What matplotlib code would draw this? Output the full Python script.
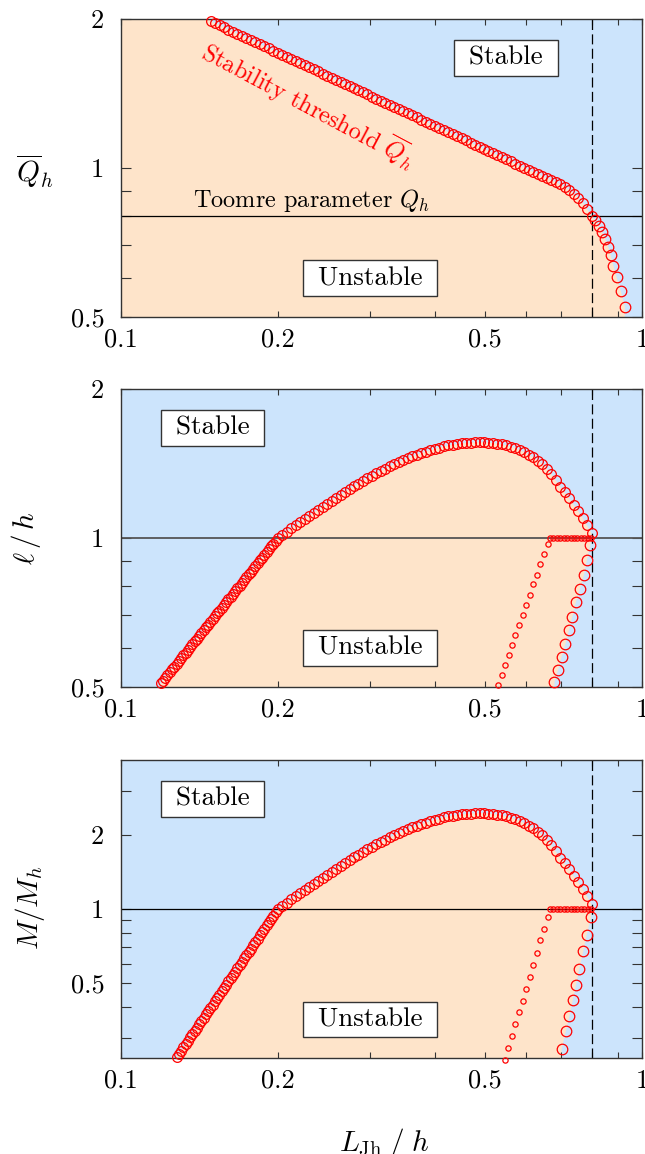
import matplotlib
matplotlib.use('Agg')
import matplotlib.pyplot as plt
from matplotlib.ticker import NullFormatter

plt.rcParams['font.family'] = 'cmr10'
plt.rcParams['mathtext.fontset'] = 'cm'
plt.rcParams['axes.formatter.use_mathtext'] = True

# ---------------- data ----------------
L_crit = 0.8      # dashed line
Q_toomre = 0.8    # Toomre parameter line (top panel)

# shared L grid of the upper branch (0.2 ... 0.8)
L_up = [0.2000, 0.2040, 0.2081, 0.2122, 0.2165, 0.2208, 0.2252, 0.2297, 0.2343, 0.2390,
        0.2438, 0.2487, 0.2536, 0.2587, 0.2639, 0.2692, 0.2746, 0.2800, 0.2856, 0.2914,
        0.2972, 0.3031, 0.3092, 0.3154, 0.3217, 0.3281, 0.3347, 0.3414, 0.3482, 0.3552,
        0.3623, 0.3695, 0.3769, 0.3845, 0.3922, 0.4000, 0.4080, 0.4162, 0.4245, 0.4330,
        0.4416, 0.4505, 0.4595, 0.4687, 0.4780, 0.4876, 0.4973, 0.5073, 0.5174, 0.5278,
        0.5383, 0.5491, 0.5601, 0.5713, 0.5827, 0.5944, 0.6062, 0.6184, 0.6307, 0.6433,
        0.6562, 0.6693, 0.6827, 0.6964, 0.7103, 0.7245, 0.7390, 0.7538, 0.7689, 0.7842,
        0.7999]

# top panel: stability threshold Qbar_h
L_top_lo = [0.1486, 0.1515, 0.1546, 0.1577, 0.1608, 0.1641, 0.1673, 0.1707, 0.1741, 0.1776,
            0.1811, 0.1848, 0.1885, 0.1922, 0.1961]
L_top_tail = [0.812, 0.825, 0.838, 0.850, 0.861, 0.871, 0.881, 0.894, 0.910, 0.927]
L_top = L_top_lo + L_up + L_top_tail
Q_top = [1.980, 1.961, 1.942, 1.923, 1.904, 1.886, 1.868, 1.849, 1.832, 1.814,
         1.796, 1.779, 1.761, 1.744, 1.727, 1.711, 1.694, 1.678, 1.661, 1.645,
         1.629, 1.614, 1.598, 1.582, 1.567, 1.552, 1.537, 1.522, 1.507, 1.493,
         1.478, 1.464, 1.450, 1.436, 1.422, 1.408, 1.394, 1.381, 1.367, 1.354,
         1.341, 1.328, 1.315, 1.302, 1.290, 1.277, 1.265, 1.253, 1.241, 1.229,
         1.217, 1.205, 1.193, 1.182, 1.170, 1.159, 1.148, 1.137, 1.126, 1.115,
         1.104, 1.093, 1.083, 1.072, 1.062, 1.051, 1.041, 1.031, 1.021, 1.011,
         1.002, 0.992, 0.982, 0.973, 0.963, 0.954, 0.945, 0.936, 0.927, 0.916,
         0.903, 0.888, 0.871, 0.851, 0.826, 0.801,
         0.784, 0.764, 0.742, 0.719, 0.694, 0.666, 0.635, 0.601, 0.565, 0.524]

# lower straight branch below L = 0.2 (listed from 0.2 downwards)
L_lo = [0.1980, 0.1961, 0.1941, 0.1922, 0.1903, 0.1884, 0.1866, 0.1847, 0.1829, 0.1811,
        0.1793, 0.1775, 0.1757, 0.1740, 0.1723, 0.1706, 0.1689, 0.1672, 0.1655, 0.1639,
        0.1623, 0.1607, 0.1591, 0.1575, 0.1560, 0.1544, 0.1529, 0.1514, 0.1499, 0.1484,
        0.1469, 0.1455, 0.1440, 0.1426, 0.1412, 0.1398, 0.1384, 0.1370, 0.1357, 0.1343,
        0.1330, 0.1317, 0.1304, 0.1291, 0.1278, 0.1265, 0.1253, 0.1240, 0.1228, 0.1216,
        0.1204, 0.1192]

# middle panel: l / h
ell_lo = [0.9871, 0.9743, 0.9617, 0.9493, 0.9370, 0.9249, 0.9130, 0.9012, 0.8895, 0.8780,
          0.8667, 0.8555, 0.8444, 0.8335, 0.8227, 0.8121, 0.8016, 0.7913, 0.7810, 0.7709,
          0.7610, 0.7512, 0.7415, 0.7319, 0.7224, 0.7131, 0.7039, 0.6948, 0.6858, 0.6769,
          0.6682, 0.6595, 0.6510, 0.6426, 0.6343, 0.6261, 0.6180, 0.6101, 0.6022, 0.5944,
          0.5867, 0.5792, 0.5717, 0.5643, 0.5570, 0.5498, 0.5427, 0.5357, 0.5288, 0.5220,
          0.5152, 0.5086]
ell_up = [1.000, 1.015, 1.030, 1.046, 1.061, 1.077, 1.093, 1.109, 1.125, 1.141,
          1.157, 1.174, 1.190, 1.207, 1.223, 1.239, 1.256, 1.272, 1.288, 1.304,
          1.320, 1.336, 1.351, 1.366, 1.381, 1.395, 1.410, 1.423, 1.437, 1.450,
          1.462, 1.474, 1.485, 1.495, 1.505, 1.515, 1.523, 1.531, 1.538, 1.544,
          1.549, 1.553, 1.557, 1.559, 1.561, 1.561, 1.561, 1.559, 1.556, 1.552,
          1.546, 1.539, 1.530, 1.519, 1.506, 1.491, 1.474, 1.455, 1.434, 1.410,
          1.380, 1.345, 1.307, 1.270, 1.236, 1.203, 1.168, 1.134, 1.098, 1.060,
          1.022]
L_ell_small = [0.529, 0.538, 0.545, 0.555, 0.563, 0.571, 0.581, 0.590, 0.600, 0.609,
               0.619, 0.629, 0.638, 0.649, 0.659]
ell_small = [0.505, 0.529, 0.553, 0.580, 0.608, 0.637, 0.668, 0.699, 0.733, 0.768,
             0.806, 0.843, 0.884, 0.927, 0.971]
L_ell_big = [0.679, 0.690, 0.701, 0.713, 0.724, 0.735, 0.746, 0.759, 0.773, 0.784, 0.796]
ell_big = [0.512, 0.542, 0.576, 0.612, 0.652, 0.694, 0.741, 0.787, 0.841, 0.903, 0.969]

# plateau at 1 shared by the small branches
L_row = [0.666, 0.676, 0.686, 0.697, 0.707, 0.718, 0.729, 0.740, 0.751, 0.763,
         0.775, 0.787, 0.799]
row_val = [1.0] * len(L_row)

# bottom panel: M / M_h
M_lo = [0.9698, 0.9405, 0.9121, 0.8846, 0.8579, 0.8320, 0.8069, 0.7825, 0.7589, 0.7360,
        0.7138, 0.6922, 0.6713, 0.6511, 0.6314, 0.6123, 0.5939, 0.5759, 0.5585, 0.5417,
        0.5253, 0.5095, 0.4941, 0.4792, 0.4647, 0.4507, 0.4371, 0.4239, 0.4111, 0.3987,
        0.3866, 0.3750, 0.3636, 0.3527, 0.3420, 0.3317, 0.3217, 0.3120, 0.3026, 0.2934,
        0.2846, 0.2760, 0.2676, 0.2596, 0.2517]
L_M_lo = L_lo[:len(M_lo)]
M_up = [1.000, 1.030, 1.061, 1.094, 1.126, 1.160, 1.195, 1.230, 1.266, 1.302,
        1.339, 1.378, 1.416, 1.457, 1.496, 1.535, 1.577, 1.618, 1.659, 1.700,
        1.742, 1.785, 1.825, 1.866, 1.907, 1.946, 1.988, 2.025, 2.065, 2.103,
        2.137, 2.173, 2.205, 2.235, 2.265, 2.295, 2.320, 2.344, 2.366, 2.384,
        2.399, 2.412, 2.424, 2.430, 2.437, 2.437, 2.437, 2.430, 2.421, 2.409,
        2.390, 2.368, 2.341, 2.307, 2.268, 2.223, 2.173, 2.117, 2.056, 1.988,
        1.904, 1.809, 1.708, 1.613, 1.528, 1.447, 1.364, 1.286, 1.206, 1.124,
        1.044]
L_M_small = [0.545, 0.554, 0.563, 0.571, 0.581, 0.590, 0.599, 0.609, 0.618, 0.628,
             0.638, 0.648, 0.659]
M_small = [0.245, 0.274, 0.306, 0.343, 0.382, 0.426, 0.475, 0.533, 0.596, 0.665,
           0.746, 0.833, 0.932]
L_M_big = [0.701, 0.714, 0.725, 0.736, 0.747, 0.758, 0.771, 0.783, 0.798]
M_big = [0.272, 0.320, 0.368, 0.427, 0.494, 0.574, 0.675, 0.787, 0.925]

x_major = [0.1, 0.2, 0.5, 1]
x_major_labels = ['0.1', '0.2', '0.5', '1']
x_minor = [0.3, 0.4, 0.6, 0.7, 0.8, 0.9]
y_major = [0.5, 1, 2]
y_major_labels = ['0.5', '1', '2']

# ---------------- styling ----------------
blue = '#cce4fc'
peach = '#fee4ca'
red = '#ff0000'
fs_tick = 19
fs_box = 19.5
fs_lab = 21
fs_note = 17.5

fig = plt.figure(figsize=(6.45, 11.54), dpi=100)
left, width, height = 0.1876, 0.8078, 0.2582
ax1 = fig.add_axes([left, 0.7253, width, height])
ax2 = fig.add_axes([left, 0.4047, width, height])
ax3 = fig.add_axes([left, 0.0832, width, height])


def setup(ax, ylo, yhi, yminor):
    ax.set_xscale('log')
    ax.set_yscale('log')
    ax.set_xlim(0.1, 1)
    ax.set_ylim(ylo, yhi)
    ax.set_facecolor(blue)
    ax.set_xticks(x_major, labels=x_major_labels)
    ax.set_xticks(x_minor, minor=True)
    ax.set_yticks(y_major, labels=y_major_labels)
    ax.set_yticks(yminor, minor=True)
    ax.xaxis.set_minor_formatter(NullFormatter())
    ax.yaxis.set_minor_formatter(NullFormatter())
    ax.tick_params(which='both', direction='in', top=True, right=True,
                   width=0.8, color='#333333', labelsize=fs_tick)
    ax.tick_params(axis='x', which='both', length=4, pad=8)
    ax.tick_params(axis='y', which='both', length=7.5, pad=12)
    for s in ax.spines.values():
        s.set_linewidth(1.0)
        s.set_color('#333333')
    ax.axvline(L_crit, color='black', lw=0.9, ls=(0, (8, 3.5)), zorder=2)


def box(ax, x, y, s):
    ax.text(x, y, ' ' + s + ' ', transform=ax.transAxes, ha='center', va='center',
            fontsize=fs_box, zorder=6,
            bbox=dict(boxstyle='square,pad=0.22', fc='white', ec='#333333', lw=1.0))


def circles(ax, x, y, ms):
    ax.plot(x, y, 'o', mfc='none', mec=red, ms=ms, mew=0.9, clip_on=False, zorder=5)


# top panel
setup(ax1, 0.5, 2, [0.6, 0.7, 0.8, 0.9])
ax1.fill([0.1, 0.1, L_top[0]] + L_top + [L_top[-1]],
         [0.5, 2, 2] + Q_top + [0.5], color=peach, lw=0, zorder=0.5)
ax1.axhline(Q_toomre, color='black', lw=0.9, zorder=2)
circles(ax1, L_top[:-10], Q_top[:-10], 7.0)
circles(ax1, L_top[-10:], Q_top[-10:], 7.6)
box(ax1, 0.739, 0.869, 'Stable')
box(ax1, 0.4776, 0.130, 'Unstable')
ax1.text(0.138, 0.37, r'Toomre parameter $Q_h$', transform=ax1.transAxes,
         ha='left', va='baseline', fontsize=fs_note, zorder=6)
ax1.text(0.360, 0.712, r'Stability threshold $\overline{Q}_h$', transform=ax1.transAxes,
         color=red, rotation=-28, rotation_mode='anchor', ha='center', va='center',
         fontsize=fs_note, zorder=6)

# middle panel
setup(ax2, 0.5, 2, [0.6, 0.7, 0.8, 0.9])
ax2.fill([L_lo[-1]] + L_lo[::-1] + L_up + L_ell_big[::-1] + [L_ell_big[0]],
         [0.5] + ell_lo[::-1] + ell_up + ell_big[::-1] + [0.5],
         color=peach, lw=0, zorder=0.5)
ax2.axhline(1, color='#555555', lw=1.3, zorder=2)
circles(ax2, L_lo[::-1] + L_up, ell_lo[::-1] + ell_up, 7.0)
circles(ax2, L_ell_small, ell_small, 3.8)
circles(ax2, L_row, row_val, 3.8)
circles(ax2, L_ell_big, ell_big, 7.6)
box(ax2, 0.176, 0.869, 'Stable')
box(ax2, 0.4776, 0.131, 'Unstable')

# bottom panel
setup(ax3, 0.25, 4, [0.3, 0.4, 0.6, 0.7, 0.8, 0.9, 3])
ax3.fill([L_M_lo[-1]] + L_M_lo[::-1] + L_up + L_M_big[::-1] + [L_M_big[0]],
         [0.25] + M_lo[::-1] + M_up + M_big[::-1] + [0.25],
         color=peach, lw=0, zorder=0.5)
ax3.axhline(1, color='black', lw=0.9, zorder=2)
circles(ax3, L_M_lo[::-1] + L_up, M_lo[::-1] + M_up, 7.0)
circles(ax3, L_M_small, M_small, 3.8)
circles(ax3, L_row, row_val, 3.8)
circles(ax3, L_M_big, M_big, 7.6)
box(ax3, 0.176, 0.869, 'Stable')
box(ax3, 0.4776, 0.129, 'Unstable')

# axis labels
fig.text(35 / 645, 1 - 171 / 1154, r'$\overline{Q}_h$', ha='center', va='center', fontsize=fs_lab)
fig.text(26 / 645, 1 - 538 / 1154, r'$\ell\,/\,h$', ha='center', va='center',
         rotation=90, fontsize=fs_lab)
fig.text(30 / 645, 1 - 908 / 1154, r'$M/M_h$', ha='center', va='center',
         rotation=90, fontsize=fs_lab)
fig.text(384 / 645, 3 / 1154, r'$L_{\rm Jh}\;/\;h$', ha='center', va='baseline',
         fontsize=fs_lab)

fig.savefig('out.png', dpi=100)
